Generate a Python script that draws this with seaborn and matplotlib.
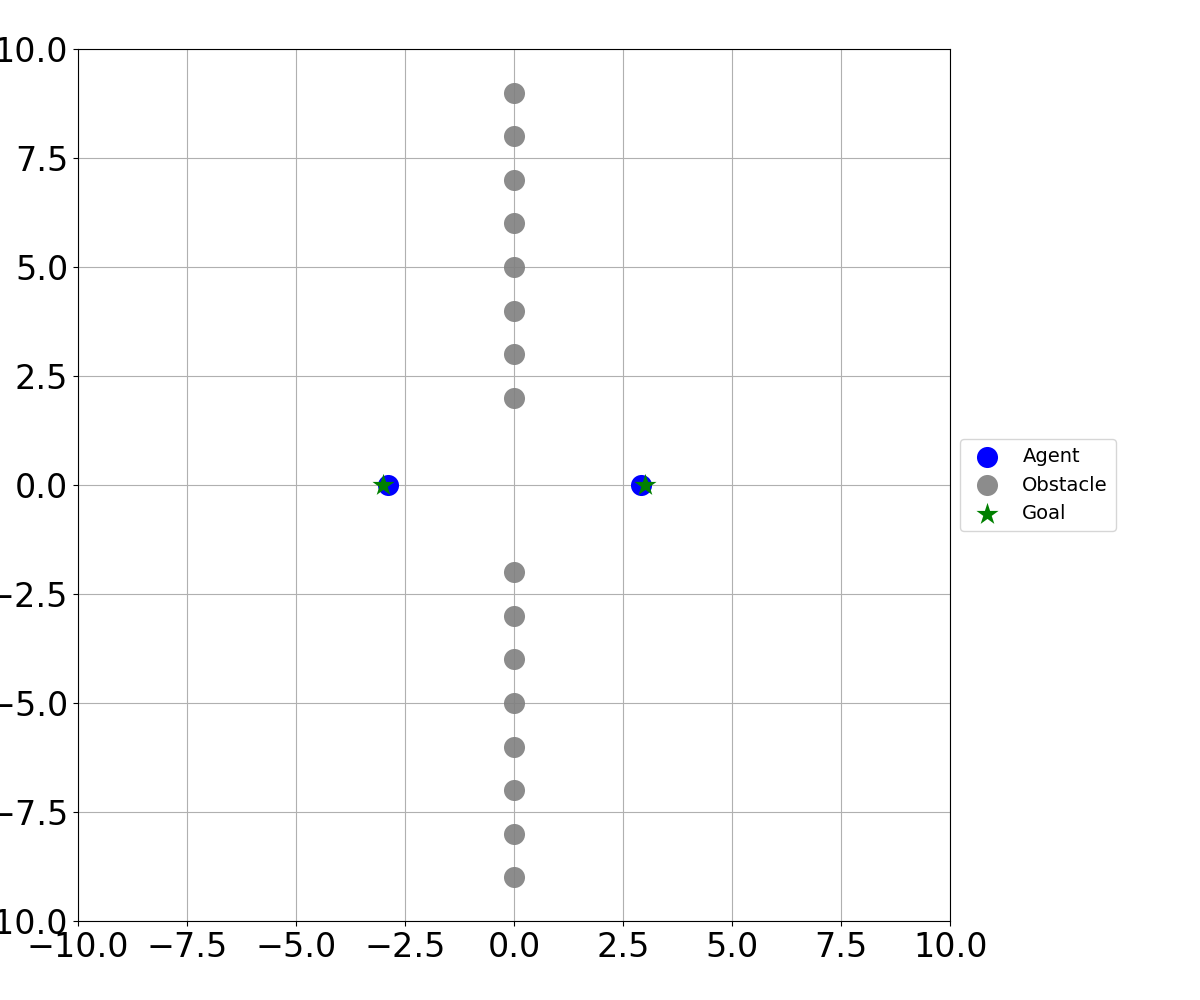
import seaborn as sns
import pandas as pd
import matplotlib.pyplot as plt

# agent and goal positions
agent_x = [-2.9, 2.9]
agent_y = [0.0, 0.0]
goal_x = [-3.0, 3.0]
goal_y = [0.0, 0.0]

# wall of obstacles along x = 0 with a gap in the middle
obstacle_y = [9, 8, 7, 6, 5, 4, 3, 2, -2, -3, -4, -5, -6, -7, -8, -9]
obstacle_x = [0] * len(obstacle_y)

agents = pd.DataFrame({"x": agent_x, "y": agent_y})
obstacles = pd.DataFrame({"x": obstacle_x, "y": obstacle_y})
goals = pd.DataFrame({"x": goal_x, "y": goal_y})

fig = plt.figure(figsize=(12, 10), dpi=100)
ax = fig.add_axes([0.065, 0.079, 0.727, 0.872])

sns.scatterplot(data=agents, x="x", y="y", ax=ax, color="blue", s=230,
                linewidth=0, label="Agent", zorder=3)
sns.scatterplot(data=obstacles, x="x", y="y", ax=ax, color="gray", s=230,
                alpha=0.9, linewidth=0, label="Obstacle", zorder=3)
sns.scatterplot(data=goals, x="x", y="y", ax=ax, color="green", marker="*",
                s=280, linewidth=0, label="Goal", zorder=4)

ax.set_xlim(-10, 10)
ax.set_ylim(-10, 10)
ax.set_xlabel("")
ax.set_ylabel("")
ax.grid(True, color="#b0b0b0", linewidth=0.8)
ax.set_axisbelow(True)
ax.tick_params(labelsize=24)
ax.legend(loc="center left", bbox_to_anchor=(1.0, 0.5), fontsize=14)

plt.savefig("out.png")
plt.close()
